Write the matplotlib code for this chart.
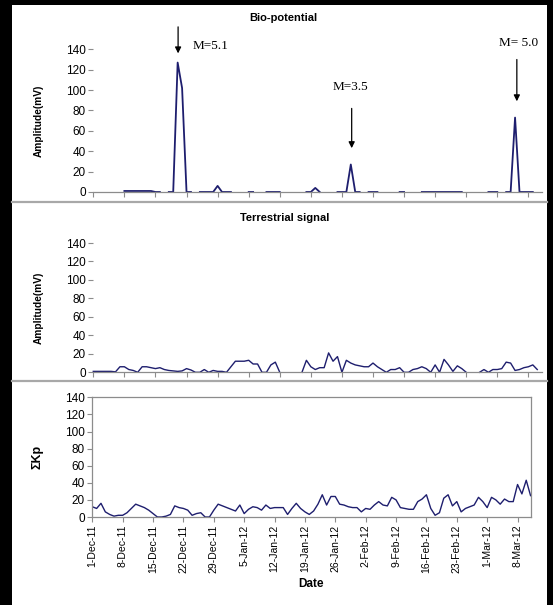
import numpy as np
import matplotlib
matplotlib.use("Agg")
import matplotlib.pyplot as plt
from matplotlib.patches import Rectangle
from matplotlib.lines import Line2D

nan = np.nan

# daily values, day 0 = 1-Dec-11
bio_potential = [
    nan, nan, nan, nan, nan, nan, nan,
    1, 1, 1, 1, 1, 1, 1,
    0, 0, nan, 0, 0,
    127, 102, 0, 0, nan,
    0, 0, 0, 0, 6, 0, 0, 0,
    nan, nan, nan, 0, 0, nan, nan,
    0, 0, 0, 0, nan, nan, nan, nan, nan,
    0, 0, 4, 0, nan, nan, nan,
    0, 0, 0, 27, 0, 0, nan, 0, 0, 0,
    nan, nan, nan, nan, 0, 0, nan, nan, nan,
    0, 0, 0, 0, 0, 0, 0, 0, 0, 0,
    nan, nan, nan, nan, nan, 0, 0, 0, nan,
    0, 0, 73, 0, 0, 0, 0, nan,
]

terrestrial = [
    1, 1, 1, 1, 1, 0.5, 6, 6, 3, 2,
    0, 6, 6, 5, 4, 5, 3, 2, 1.5, 1,
    1.5, 4, 2.5, 0, 0, 3, 0, 2, 1, 1,
    0, 6, 12, 12, 12, 13, 9, 9, 0, 0,
    8, 11, 0, nan, nan, nan, nan, 0, 13, 6,
    3, 5, 5, 21, 12, 17, 0, 13, 10, 8,
    7, 6, 6, 10, 6, 3, 0, 3, 3, 5,
    0, 0, 3, 4, 6, 4, 0, 8, 0, 14,
    8, 1, 7, 4, 0, nan, nan, 0, 3, 0,
    3, 3, 4, 11, 10, 2, 3, 5, 6, 8,
    3,
]

sum_kp = [
    12, 10, 16, 6, 3, 1, 2, 2, 5, 10,
    15, 13, 11, 8, 4, 0, 0, 1, 3, 13,
    11, 10, 8, 2, 4, 5, 0, 0, 8, 15,
    13, 11, 9, 7, 14, 4, 9, 12, 11, 8,
    14, 10, 11, 11, 11, 3, 10, 16, 10, 6,
    3, 7, 15, 26, 14, 24, 24, 15, 14, 12,
    11, 11, 6, 10, 9, 14, 18, 14, 13, 23,
    20, 11, 10, 9, 9, 18, 21, 26, 10, 2,
    5, 22, 26, 13, 18, 6, 10, 12, 14, 23,
    18, 11, 23, 20, 15, 21, 18, 18, 38, 27,
    43, 25,
]

date_ticks = [0, 7, 14, 21, 28, 35, 42, 49, 56, 63, 70, 77, 84, 91, 98]
date_labels = ["1-Dec-11", "8-Dec-11", "15-Dec-11", "22-Dec-11", "29-Dec-11",
               "5-Jan-12", "12-Jan-12", "19-Jan-12", "26-Jan-12", "2-Feb-12",
               "9-Feb-12", "16-Feb-12", "23-Feb-12", "1-Mar-12", "8-Mar-12"]
y_ticks = [0, 20, 40, 60, 80, 100, 120, 140]

# (label, arrow day, arrow top, arrow tip, label x, label y)
quakes = [
    ("M=5.1", 19.1, 162, 136, 22.3, 143),
    ("M=3.5", 58.2, 82, 43, 58.0, 103),
    ("M= 5.0", 95.4, 130, 89, 95.7, 146),
]

W, H = 553, 605
LINE = "#1e1e6e"
GREY = "#8c8c8c"
SANS = "Liberation Sans"


def box(l, top, r, bottom):
    # pixel box -> figure fraction rect
    return [l / W, 1 - bottom / H, (r - l) / W, (bottom - top) / H]


fig = plt.figure(figsize=(W / 100, H / 100), dpi=100)
fig.patch.set_facecolor("white")

ax_bio = fig.add_axes(box(93.3, 49.3, 541.7, 192))
ax_ter = fig.add_axes(box(93.3, 243, 541.7, 372.3))
ax_kp = fig.add_axes(box(92.3, 397.3, 531, 517))


def style(ax, boxed):
    ax.set_ylim(0, 140)
    ax.set_yticks(y_ticks)
    ax.set_xticks(date_ticks)
    for s in ax.spines.values():
        s.set_color(GREY)
        s.set_linewidth(0.9)
    if not boxed:
        ax.spines["left"].set_visible(False)
        ax.spines["right"].set_visible(False)
        ax.spines["top"].set_visible(False)
        ax.set_xticklabels([])
    ax.tick_params(axis="both", direction="out", length=3.5, width=0.8,
                   color=GREY, labelsize=8.5, pad=2)
    for t in ax.get_yticklabels():
        t.set_family(SANS)


days_bio = np.arange(len(bio_potential))
ax_bio.plot(days_bio, bio_potential, color=LINE, lw=1.3, clip_on=False)
ax_bio.set_xlim(0, 101)
style(ax_bio, False)
ax_bio.set_ylabel("Amplitude(mV)", fontsize=7.3, fontweight="bold", family=SANS)
ax_bio.yaxis.set_label_coords(-0.11, 0.5)

for label, xd, y0, y1, tx, ty in quakes:
    ax_bio.annotate("", xy=(xd, y1), xytext=(xd, y0), annotation_clip=False,
                    arrowprops=dict(arrowstyle="-|>", color="black", lw=0.9,
                                    mutation_scale=9, shrinkA=0, shrinkB=0))
    ha = "left" if label == "M=5.1" else "center"
    ax_bio.text(tx, ty, label, ha=ha, va="center", fontsize=9.5,
                family="Liberation Serif", clip_on=False)

days_ter = np.arange(len(terrestrial))
ax_ter.plot(days_ter, terrestrial, color=LINE, lw=1.0, clip_on=False)
ax_ter.set_xlim(0, 101)
style(ax_ter, False)
ax_ter.set_ylabel("Amplitude(mV)", fontsize=7.3, fontweight="bold", family=SANS)
ax_ter.yaxis.set_label_coords(-0.11, 0.5)

days_kp = np.arange(len(sum_kp))
ax_kp.plot(days_kp, sum_kp, color=LINE, lw=1.0)
ax_kp.set_xlim(0, 101.1)
style(ax_kp, True)
ax_kp.set_xticklabels(date_labels, rotation=90, fontsize=7.5, family=SANS)
ax_kp.set_ylabel("ΣKp", fontsize=9, fontweight="bold", family=SANS)
ax_kp.yaxis.set_label_coords(-0.112, 0.5)

fig.text(283 / W, 1 - 18 / H, "Bio-potential", ha="center", va="center",
         fontsize=8, fontweight="bold", family=SANS)
fig.text(285 / W, 1 - 218 / H, "Terrestrial signal", ha="center", va="center",
         fontsize=8, fontweight="bold", family=SANS)
fig.text(311 / W, 1 - 584 / H, "Date", ha="center", va="center",
         fontsize=8.5, fontweight="bold", family=SANS)

# panel separators and the black frame of the scanned figure
for yp in (202, 381):
    fig.add_artist(Line2D([12 / W, 547 / W], [1 - yp / H, 1 - yp / H],
                          color="#a8a8a8", lw=1.6))
for rect in [(0, 0, 12, H), (0, 0, W, 5), (547, 0, W - 547, H)]:
    x, y, w, h = rect
    fig.add_artist(Rectangle((x / W, 1 - (y + h) / H), w / W, h / H,
                             transform=fig.transFigure, color="black", lw=0))

fig.savefig("out.png", dpi=100, facecolor="white")
